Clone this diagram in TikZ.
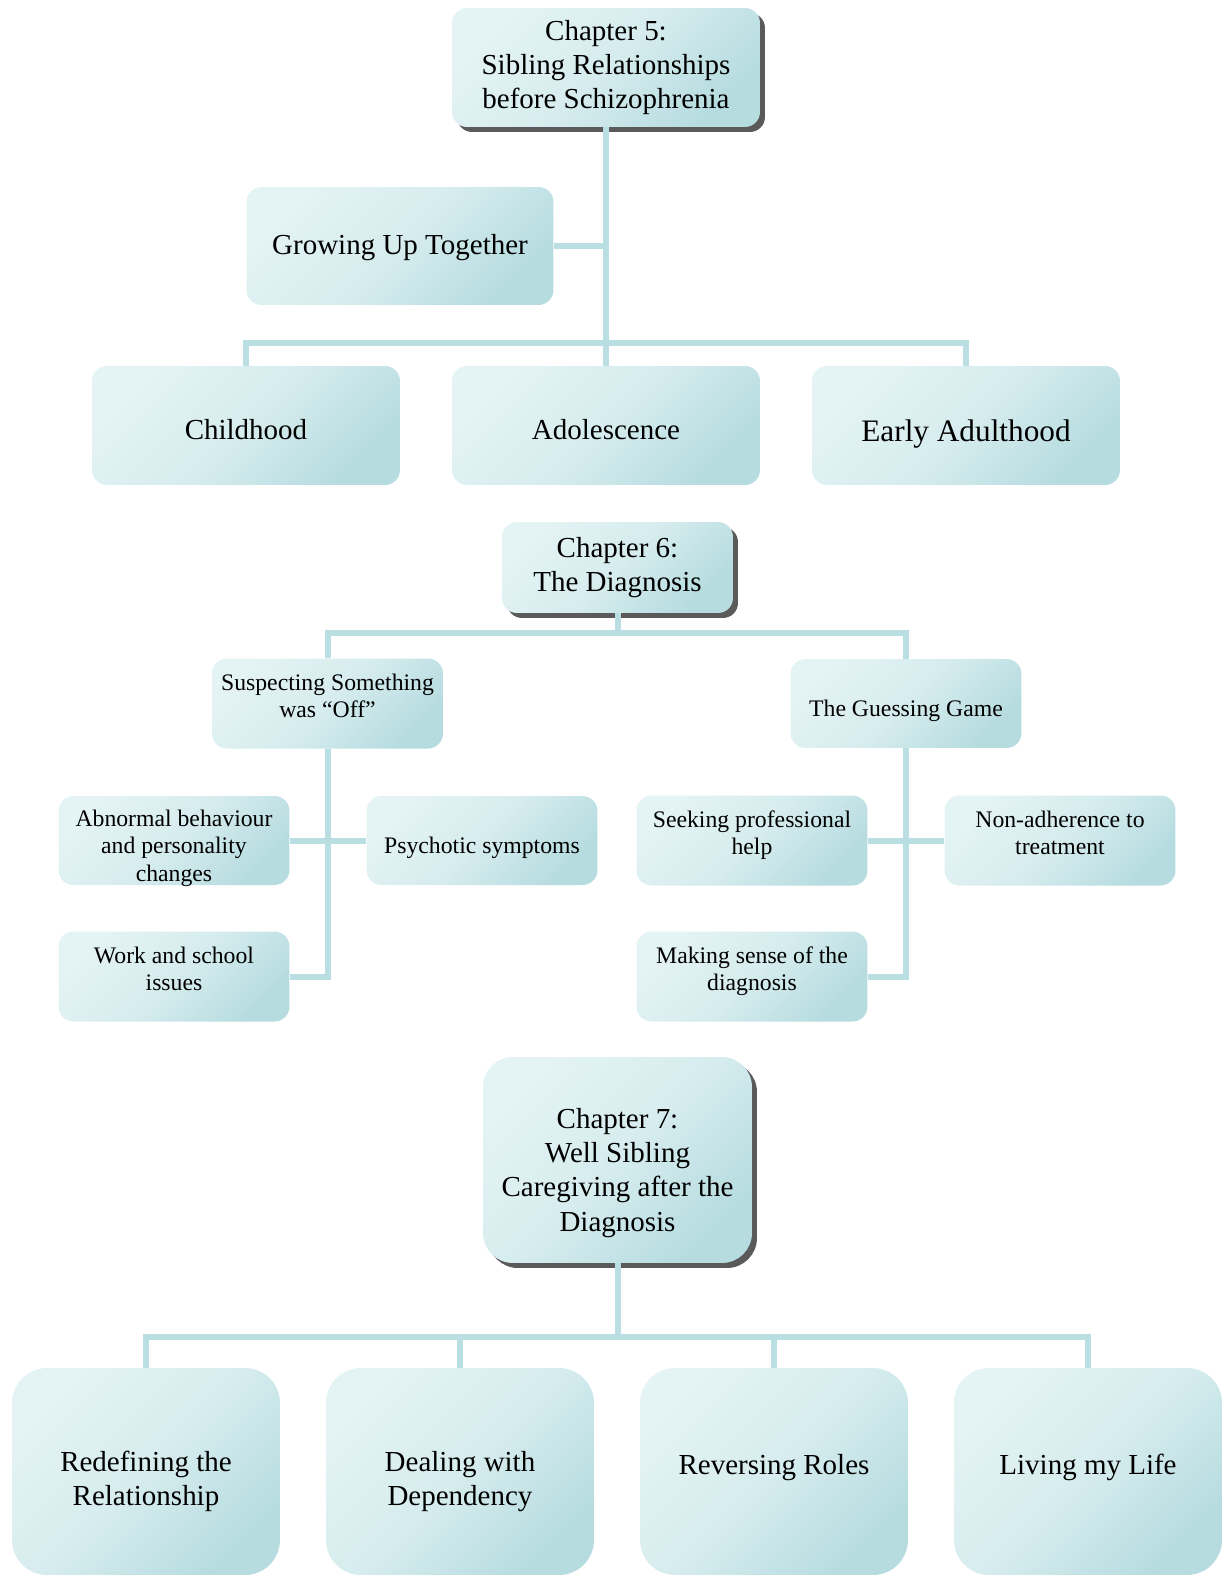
\documentclass[tikz,border=0pt]{standalone}
\usepackage{fontspec}
\setmainfont{Liberation Serif}
\usepackage{xcolor}
\usetikzlibrary{positioning,shapes,shadows}
\definecolor{boxlight}{HTML}{E4F3F4}
\definecolor{boxdark}{HTML}{B6DCE0}
\definecolor{linkcol}{HTML}{B9DFE2}
\definecolor{shadowcol}{HTML}{5A5A5A}

\begin{document}
\begin{tikzpicture}[x=0.02cm,y=-0.02cm,
  basebox/.style={rounded corners=0.3cm, align=center, inner sep=2pt,
    top color=boxlight, bottom color=boxdark, middle color=boxlight!70!boxdark,
    shading angle=45},
  chapbox/.style={basebox, font=\fontsize{16.5}{19.5}\selectfont,
    drop shadow={shadow xshift=0.1cm, shadow yshift=-0.1cm, fill=shadowcol, opacity=1}},
  topicbox/.style={basebox, font=\fontsize{16.5}{19.5}\selectfont,
    minimum width=6.16cm, minimum height=2.38cm, text height=0.56cm},
  subbox/.style={basebox, font=\fontsize{13.5}{15.5}\selectfont,
    minimum width=4.62cm, minimum height=1.78cm, text height=1.66cm},
  onelinesub/.style={subbox, text height=0.61cm},
  bigbox/.style={basebox, rounded corners=0.7cm, font=\fontsize{16.5}{19.5}\selectfont,
    minimum width=5.36cm, minimum height=4.14cm, text height=1.48cm},
  link/.style={draw=linkcol, line width=0.12cm}]
\useasboundingbox (0,0) rectangle (1225,1575);

% chapter 5
\node[chapbox, minimum width=6.16cm, minimum height=2.38cm] (ch5) at (606,67.5)
  {Chapter 5:\\Sibling Relationships\\before Schizophrenia};
\node[topicbox, minimum width=6.14cm, minimum height=2.36cm, text height=0.48cm] (grow) at (400,246) {Growing Up Together};
\node[topicbox] (child) at (246,425.5) {Childhood};
\node[topicbox] (adol) at (606,425.5) {Adolescence};
\node[topicbox, font=\fontsize{17.8}{20}\selectfont, text height=0.79cm] (early) at (966,425.5) {Early Adulthood};
\coordinate (bus5) at (606,343);

% chapter 6
\node[chapbox, minimum width=4.62cm, minimum height=1.82cm] (ch6) at (617.5,567.5)
  {Chapter 6:\\The Diagnosis};
\node[subbox] (susp) at (327.5,703.5) {Suspecting Something\\was ``Off''\\\mbox{}};
\node[onelinesub] (guess) at (906,703.5) {The Guessing Game};
\node[subbox, text height=1.62cm, text depth=0cm] (abn) at (174,840.5) {Abnormal behaviour\\and personality\\changes};
\node[onelinesub] (psy) at (482,840.5) {Psychotic symptoms};
\node[subbox] (seek) at (752,840.5) {Seeking professional\\help\\\mbox{}};
\node[subbox] (nonad) at (1060,840.5) {Non-adherence to\\treatment\\\mbox{}};
\node[subbox] (work) at (174,976.5) {Work and school\\issues\\\mbox{}};
\node[subbox] (make) at (752,976.5) {Making sense of the\\diagnosis\\\mbox{}};
\coordinate (bus6) at (617.5,633);

% chapter 7
\node[chapbox, rounded corners=0.6cm, minimum width=5.38cm, minimum height=4.12cm,
  text height=2.97cm] (ch7) at (617.5,1160)
  {Chapter 7:\\Well Sibling\\Caregiving after the\\Diagnosis};
\node[bigbox] (redef) at (146,1471.5) {Redefining the\\Relationship};
\node[bigbox] (deal) at (460,1471.5) {Dealing with\\Dependency};
\node[bigbox] (rev) at (774,1471.5) {Reversing Roles\\\mbox{}};
\node[bigbox] (liv) at (1088,1471.5) {Living my Life\\\mbox{}};
\coordinate (bus7) at (617.5,1337);

% connectors
\draw[link] (ch5.south) -- (adol.north);
\draw[link] (grow.east) -- (grow.east -| ch5.south);
\draw[link] (child.north) |- (bus5) -| (early.north);

\draw[link] (ch6.south) -- (bus6);
\draw[link] (susp.north) |- (bus6) -| (guess.north);
\draw[link] (susp.south) |- (work.east);
\draw[link] (abn.east) -- (psy.west);
\draw[link] (guess.south) |- (make.east);
\draw[link] (seek.east) -- (nonad.west);

\draw[link] (ch7.south) -- (bus7);
\draw[link] (redef.north) |- (bus7) -| (liv.north);
\draw[link] (deal.north) -- (deal.north |- bus7);
\draw[link] (rev.north) -- (rev.north |- bus7);
\end{tikzpicture}
\end{document}
